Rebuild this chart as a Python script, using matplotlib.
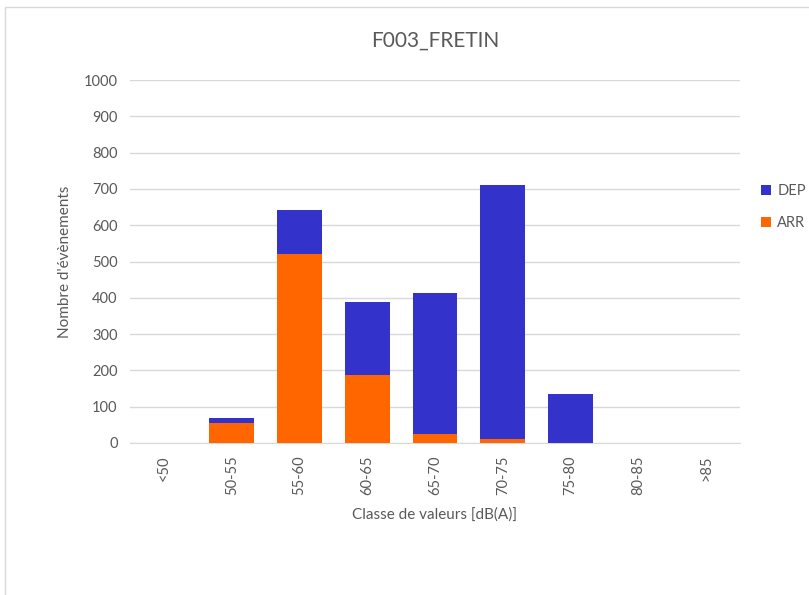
import matplotlib
matplotlib.use("Agg")
import matplotlib.pyplot as plt
from matplotlib.patches import Rectangle

categories = ["<50", "50-55", "55-60", "60-65", "65-70", "70-75", "75-80", "80-85", ">85"]
arr = [0, 55, 522, 187, 26, 10, 1, 0, 0]
dep = [0, 13, 119, 201, 387, 702, 134, 0, 0]

plt.rcParams['font.family'] = ['Lato', 'DejaVu Sans']
W, H = 809, 595
fig = plt.figure(figsize=(W / 100, H / 100), dpi=100)
ax = fig.add_axes([130 / W, 1 - 443 / H, (740 - 130) / W, (443 - 80) / H])

orange = "#FF6600"
blue = "#3333CC"
txt = "#595959"
x = list(range(len(categories)))
ax.bar(x, arr, width=0.66, color=orange, label="ARR", zorder=3)
ax.bar(x, dep, width=0.66, bottom=arr, color=blue, label="DEP", zorder=3)

ax.set_xlim(-0.5, len(categories) - 0.5)
ax.set_ylim(0, 1000)
ax.set_yticks(range(0, 1001, 100))
ax.set_xticks(x)
ax.set_xticklabels(categories, rotation=90, color=txt, fontsize=10.5)
ax.tick_params(axis='y', colors=txt, labelsize=10.5, length=0, pad=9)
ax.tick_params(axis='x', length=0, pad=9)
ax.grid(axis='y', color="#D9D9D9", linewidth=1, zorder=0)
for s in ["top", "right", "left"]:
    ax.spines[s].set_visible(False)
ax.spines["bottom"].set_color("#D9D9D9")

ax.set_title("F003_FRETIN", color=txt, fontsize=15, pad=24)
ax.set_xlabel("Classe de valeurs [dB(A)]", color=txt, fontsize=11, labelpad=9)
ax.set_ylabel("Nombre d'évènements", color=txt, fontsize=11, labelpad=8)

h, l = ax.get_legend_handles_labels()
leg = fig.legend([h[1], h[0]], [l[1], l[0]], loc="upper left",
                 bbox_to_anchor=(748 / W, 1 - 171 / H), frameon=False,
                 handlelength=0.7, handleheight=0.7, labelspacing=1.25,
                 handletextpad=0.4, fontsize=10.5)
for t in leg.get_texts():
    t.set_color(txt)

fig.patches.append(Rectangle((5 / W, -0.1), 1.2, 1 - 7 / H + 0.1,
                             transform=fig.transFigure, fill=False,
                             edgecolor="#D9D9D9", linewidth=1))

fig.savefig("out.png", dpi=100)
